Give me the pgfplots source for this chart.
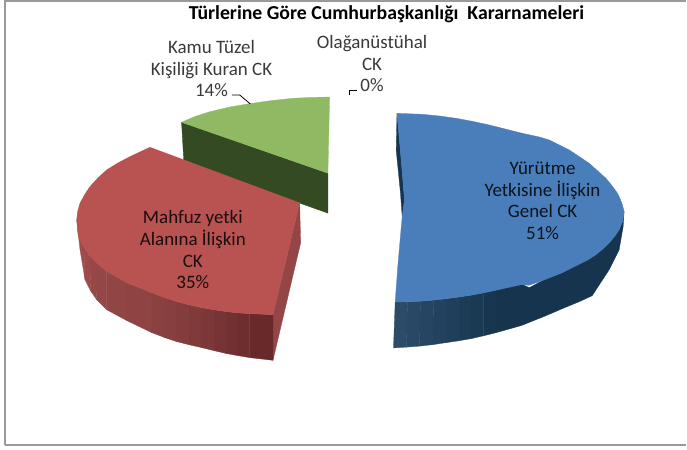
\documentclass[border=0pt]{standalone}
\usepackage{pgfplots}
\pgfplotsset{compat=1.18}
\usepackage{fontspec}
\setmainfont{Carlito}
\definecolor{blueT}{HTML}{4A7EBB}
\definecolor{redT}{HTML}{B85351}
\definecolor{greenT}{HTML}{8FBA63}
\definecolor{greenS}{HTML}{344A22}
\definecolor{redI}{HTML}{944546}
\definecolor{blueD}{HTML}{16344D}
\definecolor{frameC}{HTML}{9A9A9A}
\definecolor{txt}{HTML}{3A3A3A}
\definecolor{ra}{HTML}{A04C4C}
\definecolor{rb}{HTML}{9C4A4A}
\definecolor{rc}{HTML}{984747}
\definecolor{rd}{HTML}{954646}
\definecolor{re}{HTML}{924545}
\definecolor{rf}{HTML}{8F4343}
\definecolor{rg}{HTML}{8C4141}
\definecolor{rh}{HTML}{883F3F}
\definecolor{ri}{HTML}{843C3D}
\definecolor{rj}{HTML}{803A3A}
\definecolor{rk}{HTML}{7C3738}
\definecolor{rl}{HTML}{773435}
\definecolor{rm}{HTML}{733032}
\definecolor{rn}{HTML}{6E2D2F}
\definecolor{ro}{HTML}{68292B}
\definecolor{ba}{HTML}{2C4B69}
\definecolor{bb}{HTML}{294866}
\definecolor{bc}{HTML}{264563}
\definecolor{bd}{HTML}{23425F}
\definecolor{be}{HTML}{203F5B}
\definecolor{bf}{HTML}{1D3C57}
\definecolor{bg}{HTML}{1A3953}
\definecolor{bh}{HTML}{183650}
\pgfplotsset{f/.style={fill=#1,draw=#1,line width=0.3pt,no markers,forget plot}}
\begin{document}
\begin{tikzpicture}
\begin{axis}[scale only axis,width=687pt,height=450pt,xmin=0,xmax=687,ymin=0,ymax=450,y dir=reverse,hide axis,clip=false]
% canvas and frame
\addplot[f=white] coordinates {(0,0)(687,0)(687,450)(0,450)} --cycle;
\addplot[frameC,line width=2pt,no markers,forget plot] coordinates {(5,446)(5,0.8)(687,0.8)};
\addplot[frameC,line width=1.2pt,no markers,forget plot] coordinates {(5,445.5)(687,445.5)};
% green slice
\addplot[f=greenS] coordinates {(181.7,122.3)(328.3,173.3)(328.3,213.3)(184,162)} --cycle;
\addplot[f=greenT] coordinates {(181.7,122.3)(195,116.5)(210,111.7)(230,107)(251.7,103.3)(272,100.5)(293,98.3)(312,97.3)(330,97)(328.3,173.3)} --cycle;
% red slice: inner wall
\addplot[f=redI] coordinates {(300,203)(301,243)(273.3,360.7)(273.3,315)} --cycle;
% red outer wall strips
\addplot[f=ra] coordinates {(76.7,220)(78.3,236.7)(84,247)(85,280)(80,250)} --cycle;
\addplot[f=rb] coordinates {(84,247)(90,256.7)(90.5,291)(85,280)} --cycle;
\addplot[f=rc] coordinates {(90,256.7)(97,263.5)(96.7,300)(90.5,291)} --cycle;
\addplot[f=rd] coordinates {(97,263.5)(106.7,271.7)(106.7,310)(96.7,300)} --cycle;
\addplot[f=re] coordinates {(106.7,271.7)(127,283)(127,321)(106.7,310)} --cycle;
\addplot[f=rf] coordinates {(127,283)(152,293)(152,333)(127,321)} --cycle;
\addplot[f=rg] coordinates {(152,293)(165,298)(165,338)(152,333)} --cycle;
\addplot[f=rh] coordinates {(165,298)(177,302)(177,342)(165,338)} --cycle;
\addplot[f=ri] coordinates {(177,302)(190,305.3)(190,345.3)(177,342)} --cycle;
\addplot[f=rj] coordinates {(190,305.3)(202,308)(202,348)(190,345.3)} --cycle;
\addplot[f=rk] coordinates {(202,308)(215,310.2)(215,351.2)(202,348)} --cycle;
\addplot[f=rl] coordinates {(215,310.2)(227,312)(227,354)(215,351.2)} --cycle;
\addplot[f=rm] coordinates {(227,312)(238,313.2)(238,356)(227,354)} --cycle;
\addplot[f=rn] coordinates {(238,313.2)(250,314)(250,358)(238,356)} --cycle;
\addplot[f=ro] coordinates {(250,314)(273.3,315)(273.3,360.7)(250,358)} --cycle;
% red top
\addplot[f=redT] coordinates {(150,147.3)(130,156.7)(118,163)(106.7,170)(98,178)(90,186.7)(84.5,195)(80,203.3)(77.5,212)(76.7,220)(78.3,236.7)(84,247)(90,256.7)(97,263.5)(106.7,271.7)(127,283)(152,293)(165,298)(177,302)(190,305.3)(202,308)(215,310.2)(227,312)(238,313.2)(250,314)(273.3,315)(300,203)} --cycle;
% blue slice: outer wall strips
\addplot[f=ba] coordinates {(395.7,302.3)(408,302)(407,347.5)(394,348.3)} --cycle;
\addplot[f=bb] coordinates {(408,302)(421,301.5)(420,346.5)(407,347.5)} --cycle;
\addplot[f=bc] coordinates {(421,301.5)(434,300.4)(433.5,345)(420,346.5)} --cycle;
\addplot[f=bd] coordinates {(434,300.4)(446.7,299)(446.7,343)(433.5,345)} --cycle;
\addplot[f=be] coordinates {(446.7,299)(459,297.4)(459,341.2)(446.7,343)} --cycle;
\addplot[f=bf] coordinates {(459,297.4)(471.7,295.5)(471.7,339)(459,341.2)} --cycle;
\addplot[f=bg] coordinates {(471.7,295.5)(484,293.2)(484,336.2)(471.7,339)} --cycle;
\addplot[f=bh] coordinates {(484,293.2)(496.7,290.5)(496.7,333)(484,336.2)} --cycle;
\addplot[f=blueD] coordinates {(496.7,290.5)(521.7,284)(530,288)(546.7,279)(563,273)(580,264)(596.7,255)(610,243.3)(620,230)(624,220)(625,211.7)(624,227)(620,250)(610,270)(593,296)(580,302)(563,309)(546.7,316)(521.7,326)(496.7,333)} --cycle;
% blue inner sliver
\addplot[f=blueD] coordinates {(397.5,113.3)(396.7,150)(401,193.3)(402.7,216.7)(405,200)(401.7,160)} --cycle;
% blue top
\addplot[f=blueT] coordinates {(397.5,113.3)(423,114.3)(440,116)(456.7,118.3)(473,121.3)(490,125)(523,133.3)(540,137)(550,140)(570,150)(590,163.3)(606.7,178.3)(613,186)(618.3,193.3)(621,199)(623.3,205)(625,211.7)(624,220)(620,230)(616,236)(610,243.3)(604,249)(596.7,255)(589,260)(580,264.5)(563,273)(546.7,279.5)(530,285.5)(521.7,285)(496.7,290.5)(484,293.2)(471.7,295.5)(459,297.4)(446.7,299)(434,300.4)(421,301.5)(408,302)(395.7,302.3)(398.3,266.7)(402.7,216.7)(405,200)(401.7,160)} --cycle;
% leader lines
\addplot[black,line width=0.8pt,no markers,forget plot] coordinates {(232,95)(240,95)(250.7,104)};
\addplot[black,line width=0.9pt,no markers,forget plot] coordinates {(350,95)(350,90.5)(357,90.5)};
% texts
\node[font=\fontsize{19.8}{22}\selectfont\bfseries,text=black] at (axis cs:387,14) {Türlerine Göre Cumhurbaşkanlığı\ \ Kararnameleri};
\node[font=\fontsize{19}{21.7}\selectfont,text=txt,align=center] at (axis cs:211.7,68.5) {Kamu Tüzel\\Kişiliği Kuran CK\\14\%};
\node[font=\fontsize{19}{21.7}\selectfont,text=txt,align=center] at (axis cs:372.5,63.5) {Olağanüstühal\\CK\\0\%};
\node[font=\fontsize{19}{21.7}\selectfont,text=black!85!redT,align=center] at (axis cs:193,250) {Mahfuz yetki\\Alanına İlişkin\\CK\\35\%};
\node[font=\fontsize{19}{21.7}\selectfont,text=black!85!blueT,align=center] at (axis cs:543.3,201) {Yürütme\\Yetkisine İlişkin\\Genel CK\\51\%};
\end{axis}
\end{tikzpicture}
\end{document}
